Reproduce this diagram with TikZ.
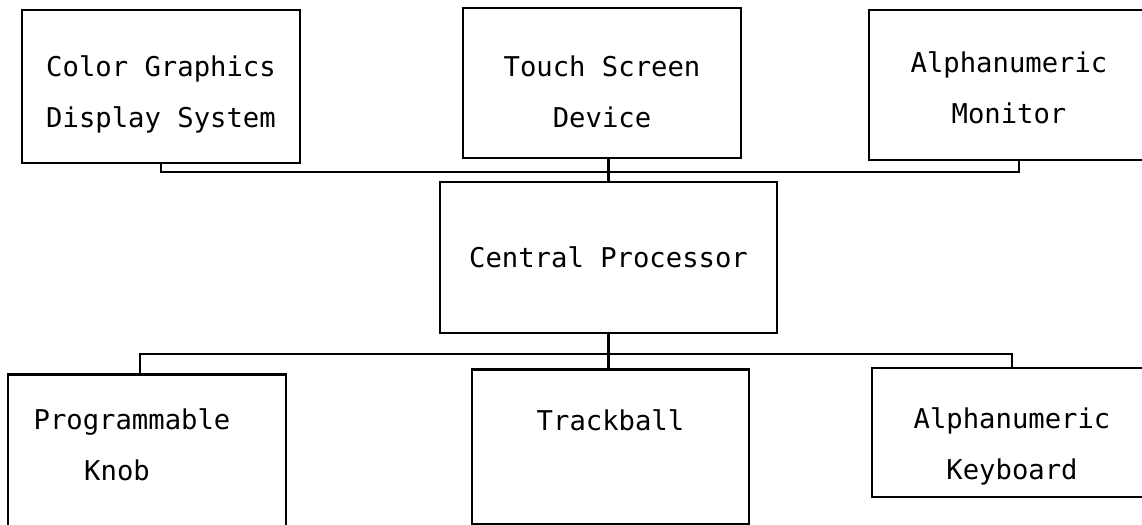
\documentclass[tikz,border=0pt]{standalone}
\usepackage{fontspec}
\setmonofont{DejaVu Sans Mono}
\usepackage{tikz}
\usetikzlibrary{calc,positioning}
\tikzset{
	unitbox/.style={draw, line width=1.2pt, rectangle, inner sep=0pt},
	boxtext/.style={inner sep=0pt, align=center, font=\ttfamily\fontsize{15.5}{29}\selectfont},
	busline/.style={line width=1.2pt}
}

\begin{document}
\begin{tikzpicture}[x=0.02cm, y=-0.02cm]
		%%%%% START %%%%%
		
		\path[use as bounding box, clip] (0, 0) rectangle (1142, 524);
		
		\node[unitbox, minimum width=5.56cm, minimum height=3.06cm] (cgd) at (161, 86.5) {};
		\node[unitbox, minimum width=5.56cm, minimum height=3.0cm] (tsd) at (602, 83) {};
		\node[unitbox, minimum width=5.6cm, minimum height=3.0cm] (anm) at (1009, 85) {};
		
		\node[unitbox, minimum width=6.74cm, minimum height=3.02cm] (cpu) at (608.5, 257.5) {};
		
		\node[unitbox, minimum width=5.56cm, minimum height=3.1cm] (pk) at (147, 452) {};
		\node[unitbox, minimum width=5.54cm, minimum height=3.1cm] (tbl) at (610.5, 447) {};
		\node[unitbox, minimum width=5.6cm, minimum height=2.58cm] (kbd) at (1012, 432.5) {};
		
		% texts
		\node[boxtext] (cgdtext) at ([yshift=-0.15cm]cgd.center) {Color Graphics\\Display System};
		\node[boxtext] (tsdtext) at ([yshift=-0.18cm]tsd.center) {Touch Screen\\Device};
		\node[boxtext] (anmtext) at ([yshift=-0.06cm]anm.center) {Alphanumeric\\Monitor};
		\node[boxtext] (cputext) at (cpu.center) {Central Processor};
		\node[boxtext] (pktext) at ([xshift=-0.3cm, yshift=0.14cm]pk.center) {Programmable\\Knob\hspace*{0.6cm}};
		\node[boxtext] (tbltext) at ([yshift=0.54cm]tbl.center) {Trackball};
		\node[boxtext] (kbdtext) at ([yshift=-0.28cm]kbd.center) {Alphanumeric\\Keyboard};
		
		\coordinate (tb) at (0, 172);
		\coordinate (bb) at (0, 354);
		\coordinate (anmc) at ([xshift=0.2cm]anm.south);
		\coordinate (pkc) at ([xshift=-0.14cm]pk.north);
		
		\draw[busline] (cgd.south) |- (anmc |- tb) -- (anmc);
		\draw[busline] (tsd.south -| cpu.north) -- (cpu.north);
		
		\draw[busline] (cpu.south) -- (cpu.south |- tbl.north);
		\draw[busline] (pkc) |- (kbd.north |- bb) -- (kbd.north);
		
		%%%%% END %%%%%
	\end{tikzpicture}
\end{document}
